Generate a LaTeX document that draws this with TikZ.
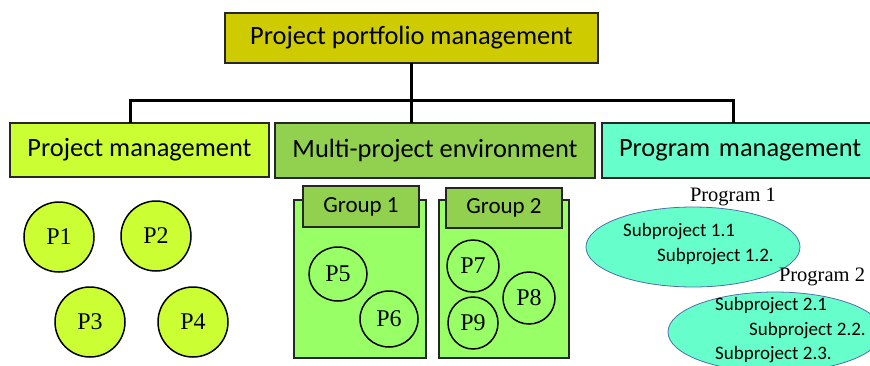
\documentclass[tikz,border=0pt]{standalone}
\usepackage{fontspec}
\setmainfont{Liberation Serif}
\newfontfamily\calibri{Carlito}
\usetikzlibrary{positioning,shapes}
\definecolor{ppmolive}{RGB}{206,204,0}
\definecolor{pmlime}{RGB}{204,255,51}
\definecolor{mpegreen}{RGB}{146,208,80}
\definecolor{grplight}{RGB}{153,255,102}
\definecolor{prgaqua}{RGB}{102,255,204}
\definecolor{prgedge}{RGB}{79,110,170}
\tikzstyle{head} = [draw=black!85, line width=1.2pt, inner sep=0pt, outer sep=0pt, anchor=north west, font=\calibri\fontsize{26.4}{30}\selectfont]
\tikzstyle{grpbox} = [draw=black!85, line width=1.5pt, fill=grplight, inner sep=0pt, outer sep=0pt, anchor=north west]
\tikzstyle{grplabel} = [draw=black!85, line width=1.2pt, fill=mpegreen, inner sep=0pt, outer sep=0pt, anchor=north west, font=\calibri\fontsize{23}{26}\selectfont]
\tikzstyle{proj} = [draw=black, line width=1.5pt, ellipse, inner sep=0pt, font=\fontsize{24}{28}\selectfont]
\tikzstyle{prog} = [draw=prgedge, line width=0.8pt, fill=prgaqua, ellipse, inner sep=0pt]
\tikzstyle{sub} = [anchor=west, inner sep=0pt, font=\calibri\fontsize{19}{22}\selectfont]
\tikzstyle{link} = [line width=3pt, black]

\begin{document}
\begin{tikzpicture}[x=1pt, y=-1pt]
    \useasboundingbox (0,0) rectangle (870,365);
    \clip (0,0) rectangle (870,365);

    % Heads
    \node[head, fill=ppmolive, minimum width=373pt, minimum height=50pt] (ppm) at (225,13) {Project portfolio management};
    \node[head, fill=pmlime, minimum width=259pt, minimum height=54pt] (pm) at (10,123) {Project management};
    \node[head, fill=mpegreen, minimum width=320pt, minimum height=55pt] (mpe) at (275,123) {Multi-project environment};
    \node[head, fill=prgaqua, minimum width=275pt, minimum height=55pt, text width=275pt, align=left] (prg) at (602,123) {\hspace*{17pt}Program management};

    % Bus lines
    \coordinate (busL) at (130,100);
    \coordinate (busR) at (733,100);
    \draw[link] (ppm.south) -- (ppm.south |- mpe.north);
    \draw[link] (busL |- pm.north) -- (busL) -- (busR) -- (busR |- prg.north);

    % Single projects
    \foreach \name/\x/\y in {P1/59/237, P2/156/236, P3/90/322, P4/193/322} {
        \node[proj, fill=pmlime, minimum width=70pt, minimum height=70pt] (\name) at (\x,\y) {\name};
    }

    % Groups
    \node[grpbox, minimum width=132pt, minimum height=158pt] (g1) at (294,200) {};
    \node[grpbox, minimum width=130pt, minimum height=158pt] (g2) at (439,200) {};
    \node[grplabel, minimum width=116pt, minimum height=41pt] (g1lab) at (303,186) {Group 1};
    \node[grplabel, minimum width=116pt, minimum height=40pt] (g2lab) at (446,188) {Group 2};
    \foreach \name/\x/\y/\w/\h in {P5/338/274/58/54, P6/389/319/58/56, P7/473/266/52/52, P8/529/298/52/52, P9/473/323/50/52} {
        \node[proj, minimum width=\w pt, minimum height=\h pt] (\name) at (\x,\y) {\name};
    }

    % Programs
    \node[prog, minimum width=214pt, minimum height=80pt] (prog1) at (693,247) {};
    \node[prog, minimum width=214pt, minimum height=80pt] (prog2) at (775,332) {};
    \node[font=\fontsize{20.5}{24}\selectfont, inner sep=0pt] (prog1lab) at (733,197) {Program 1};
    \node[font=\fontsize{20.5}{24}\selectfont, inner sep=0pt] (prog2lab) at (822,277) {Program 2};
    \node[sub] (sub11) at (623,232) {Subproject 1.1};
    \node[sub] (sub12) at (657,257) {Subproject 1.2.};
    \node[sub] (sub21) at (715,306) {Subproject 2.1};
    \node[sub] (sub22) at (749,331) {Subproject 2.2.};
    \node[sub] (sub23) at (715,355) {Subproject 2.3.};
\end{tikzpicture}
\end{document}
